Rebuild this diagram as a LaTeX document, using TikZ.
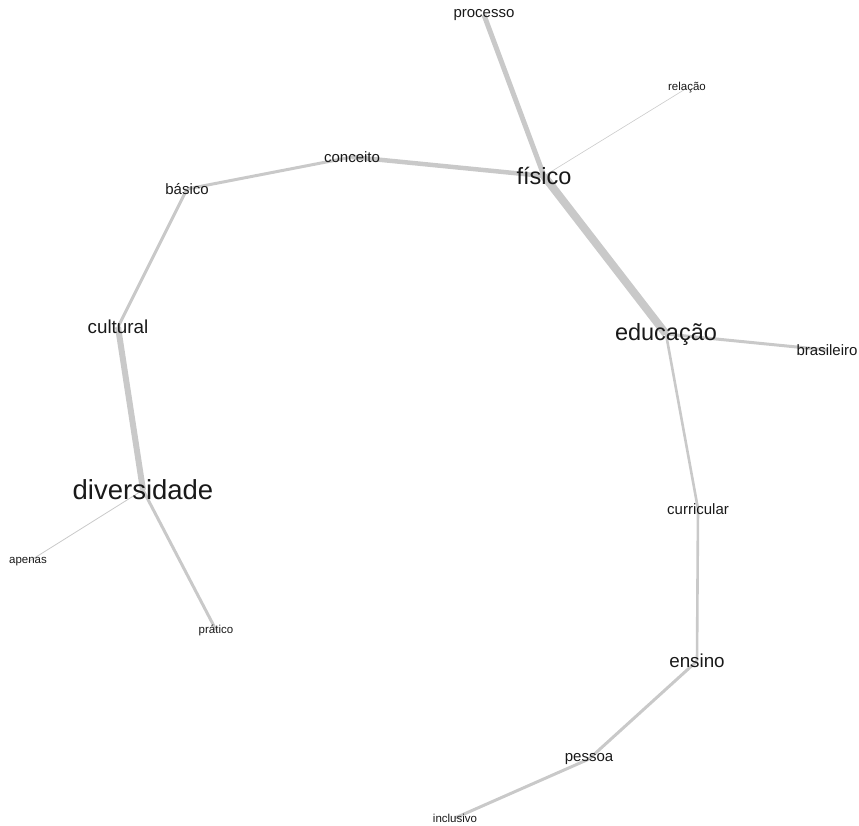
\documentclass[tikz,border=0pt]{standalone}
\usepackage{fontspec}
\setmainfont{Liberation Sans}
\pgfdeclarelayer{background}
\pgfsetlayers{background,main}
\begin{document}
\begin{tikzpicture}[x=1pt,y=-1pt,
  w/.style={inner sep=0pt,text=black!90},
  fA/.style={w,font=\fontsize{27.5}{30}\selectfont},
  fB/.style={w,font=\fontsize{23.5}{26}\selectfont},
  fC/.style={w,font=\fontsize{18.8}{21}\selectfont},
  fD/.style={w,font=\fontsize{15}{17}\selectfont},
  fE/.style={w,font=\fontsize{11.5}{13}\selectfont},
  edge/.style={draw=black!21,line cap=butt},
]
\useasboundingbox (0,0) rectangle (859,825);
\node[fD] (processo) at (484,15) {processo};
\node[fE] (relacao) at (687,88) {relação};
\node[fB] (fisico) at (544,176) {físico};
\node[fD] (conceito) at (352,157) {conceito};
\node[fD] (basico) at (187,189) {básico};
\node[fC] (cultural) at (118,327) {cultural};
\node[fA] (diversidade) at (143,490) {diversidade};
\node[fE] (apenas) at (28,562) {apenas};
\node[fE] (pratico) at (216,630) {prático};
\node[fB] (educacao) at (666,334) {educação};
\node[fD] (brasileiro) at (827,350) {brasileiro};
\node[fD] (curricular) at (698,509) {curricular};
\node[fC] (ensino) at (697,661) {ensino};
\node[fD] (pessoa) at (589,759) {pessoa};
\node[fE] (inclusivo) at (455,818) {inclusivo};
\begin{pgfonlayer}{background}
\draw[edge,line width=8pt] (fisico.center) -- (educacao.center);
\draw[edge,line width=6pt] (cultural.center) -- (diversidade.center);
\draw[edge,line width=5pt] (processo.center) -- (fisico.center);
\draw[edge,line width=4.5pt] (conceito.center) -- (fisico.center);
\draw[edge,line width=3pt] (basico.center) -- (conceito.center);
\draw[edge,line width=3pt] (basico.center) -- (cultural.center);
\draw[edge,line width=3pt] (diversidade.center) -- (pratico.center);
\draw[edge,line width=0.8pt] (diversidade.center) -- (apenas.center);
\draw[edge,line width=0.6pt] (fisico.center) -- (relacao.center);
\draw[edge,line width=3pt] (educacao.center) -- (brasileiro.center);
\draw[edge,line width=2.6pt] (educacao.center) -- (curricular.center);
\draw[edge,line width=2.6pt] (curricular.center) -- (ensino.center);
\draw[edge,line width=3pt] (ensino.center) -- (pessoa.center);
\draw[edge,line width=3pt] (pessoa.center) -- (inclusivo.center);
\end{pgfonlayer}
\end{tikzpicture}
\end{document}
